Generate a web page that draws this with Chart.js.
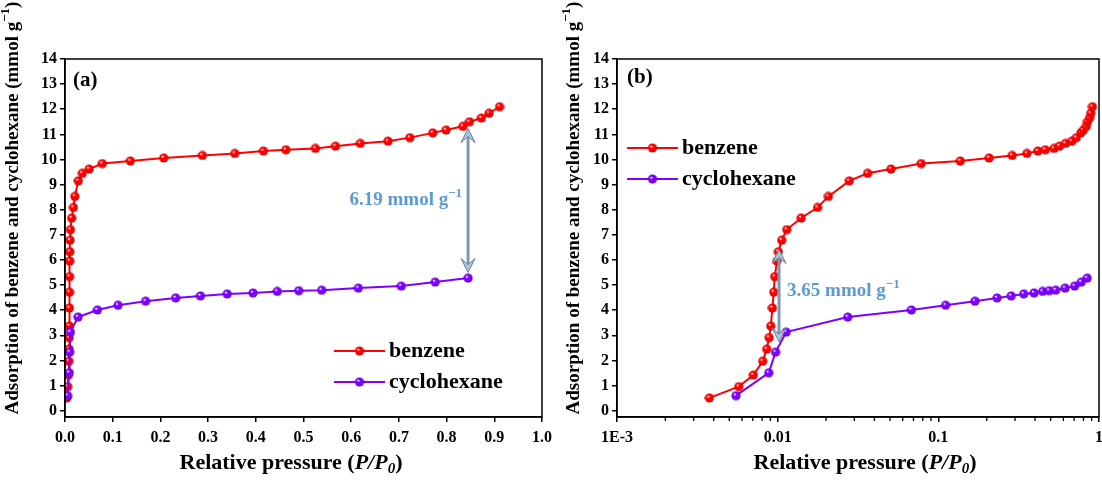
<!DOCTYPE html>
<html lang="en">

<head>
    <meta charset="UTF-8">
    <script src="https://cdn.jsdelivr.net/npm/chart.js"></script>
    <title>Benzene / cyclohexane adsorption</title>
    <style>
        body {
            margin: 0;
            width: 1102px;
            height: 495px;
            overflow: hidden;
            background: #fff;
            position: relative;
        }

        .panel {
            position: absolute;
            top: 0;
        }

        #panelA { left: 0; }
        #panelB { left: 551px; }
    </style>
</head>

<body>
    <canvas id="panelA" class="panel" width="570" height="495"></canvas>
    <canvas id="panelB" class="panel" width="570" height="495"></canvas>

    <script>
        // values: relative pressure P/P0 and uptake (mmol/g)
        const benzeneP = [0.00376, 0.00573, 0.00706, 0.00807, 0.00855, 0.00884, 0.00906, 0.00927, 0.00946, 0.00959,
            0.00991, 0.0101, 0.0106, 0.0114, 0.0140, 0.0177, 0.0207, 0.0279, 0.0363, 0.0507,
            0.0782, 0.137, 0.207, 0.288, 0.356, 0.416, 0.463, 0.525, 0.567, 0.619,
            0.677, 0.723, 0.771, 0.799, 0.834, 0.848, 0.873, 0.889, 0.911];
        const benzeneQ = [0.51, 0.96, 1.42, 1.97, 2.45, 2.91, 3.37, 4.09, 4.72, 5.34,
            5.96, 6.33, 6.79, 7.21, 7.67, 8.09, 8.53, 9.15, 9.45, 9.62,
            9.84, 9.94, 10.06, 10.16, 10.24, 10.34, 10.39, 10.44, 10.53, 10.64,
            10.73, 10.87, 11.06, 11.17, 11.32, 11.50, 11.65, 11.84, 12.10];
        const cyclohexaneP = [0.0055, 0.0088, 0.0097, 0.0113, 0.0273, 0.068, 0.111, 0.169, 0.232, 0.284,
            0.34, 0.394, 0.445, 0.49, 0.538, 0.615, 0.705, 0.776, 0.845];
        const cyclohexaneQ = [0.60, 1.51, 2.33, 3.13, 3.73, 4.01, 4.20, 4.36, 4.49, 4.57,
            4.65, 4.69, 4.75, 4.78, 4.80, 4.88, 4.96, 5.12, 5.28];

        const seriesNames = ['benzene', 'cyclohexane'];
        const seriesColors = ['#ff0000', '#8000ff'];
        const seriesShades = ['#a80000', '#4d009c'];

        const yTicks = [0, 1, 2, 3, 4, 5, 6, 7, 8, 9, 10, 11, 12, 13, 14];
        const xTicksA = [0, 0.1, 0.2, 0.3, 0.4, 0.5, 0.6, 0.7, 0.8, 0.9, 1.0];
        const xDecadesB = [0.001, 0.01, 0.1, 1];
        const xDecadeLabelsB = ['1E-3', '0.01', '0.1', '1'];

        // difference arrows (a) at high pressure, (b) at the step
        const gapA = { x: 0.845, top: 11.23, bottom: 5.5, text: '6.19' };
        const gapB = { x: 0.0102, top: 6.42, bottom: 2.74, text: '3.65', textY: 4.75 };

        const SERIF = '"Liberation Serif", "Times New Roman", serif';
        const tickFont = { family: SERIF, size: 16, weight: 'bold' };

        // small shaded ball used as point marker
        function makeBall(color, shade) {
            const c = document.createElement('canvas');
            c.width = 10; c.height = 10;
            const g = c.getContext('2d');
            const grad = g.createRadialGradient(3.6, 3.4, 0.3, 5, 5, 4.8);
            grad.addColorStop(0, '#ffffff');
            grad.addColorStop(0.3, color);
            grad.addColorStop(0.75, color);
            grad.addColorStop(1, shade);
            g.fillStyle = grad;
            g.beginPath();
            g.arc(5, 5, 4.6, 0, Math.PI * 2);
            g.fill();
            return c;
        }
        const balls = seriesColors.map((c, i) => makeBall(c, seriesShades[i]));

        function richText(ctx, parts, x, y, align) {
            let w = 0;
            parts.forEach(p => { ctx.font = p[1]; w += ctx.measureText(p[0]).width; });
            let cx = align === 'center' ? x - w / 2 : (align === 'right' ? x - w : x);
            ctx.textAlign = 'left';
            ctx.textBaseline = 'middle';
            parts.forEach(p => {
                ctx.font = p[1];
                ctx.fillText(p[0], cx, y + (p[2] || 0));
                cx += ctx.measureText(p[0]).width;
            });
        }

        function drawArrow(ctx, px, yTop, yBot) {
            ctx.strokeStyle = '#8097b0';
            ctx.lineWidth = 3;
            ctx.beginPath();
            ctx.moveTo(px, yTop + 6);
            ctx.lineTo(px, yBot - 6);
            ctx.stroke();
            [[yTop, 1], [yBot, -1]].forEach(([ty, dir]) => {
                ctx.beginPath();
                ctx.moveTo(px, ty);
                ctx.lineTo(px - 7, ty + dir * 14);
                ctx.lineTo(px, ty + dir * 8);
                ctx.lineTo(px + 7, ty + dir * 14);
                ctx.closePath();
                ctx.fillStyle = '#afc4da';
                ctx.fill();
                ctx.strokeStyle = '#6a819b';
                ctx.lineWidth = 1;
                ctx.stroke();
            });
        }

        function decor(cfg) {
            return {
                id: 'decor',
                afterDraw(chart) {
                    const { ctx, chartArea: a, scales: { x, y } } = chart;
                    ctx.save();
                    ctx.strokeStyle = '#000';
                    ctx.lineWidth = 1.5;
                    ctx.strokeRect(a.left, a.top, a.right - a.left, a.bottom - a.top);

                    // shorter minor ticks on the log axis
                    if (cfg.minor) {
                        ctx.lineWidth = 1.3;
                        x.ticks.filter(t => !t.major).forEach(t => {
                            const px = x.getPixelForValue(t.value);
                            ctx.beginPath();
                            ctx.moveTo(px, a.bottom);
                            ctx.lineTo(px, a.bottom + 4);
                            ctx.stroke();
                        });
                    }

                    ctx.fillStyle = '#000';
                    ctx.font = 'bold 21px ' + SERIF;
                    ctx.textAlign = 'left';
                    ctx.textBaseline = 'middle';
                    ctx.fillText(cfg.letter, cfg.letterX, cfg.letterY);

                    // axis titles
                    richText(ctx, [
                        ['Relative pressure (', 'bold 22px ' + SERIF],
                        ['P/P', 'italic bold 22px ' + SERIF],
                        ['0', 'italic bold 15px ' + SERIF, 6],
                        [')', 'bold 22px ' + SERIF]
                    ], cfg.xTitleX, 463, 'center');

                    ctx.save();
                    ctx.translate(cfg.yTitleX, 208);
                    ctx.rotate(-Math.PI / 2);
                    richText(ctx, [
                        ['Adsorption of benzene and cyclohexane (mmol g', 'bold 19px ' + SERIF],
                        ['\u22121', 'bold 13px ' + SERIF, -7],
                        [')', 'bold 19px ' + SERIF]
                    ], 0, 0, 'center');
                    ctx.restore();

                    // legend
                    seriesNames.forEach((name, i) => {
                        const ly = cfg.legendY + i * 31;
                        ctx.strokeStyle = seriesColors[i];
                        ctx.lineWidth = 2;
                        ctx.beginPath();
                        ctx.moveTo(cfg.legendX, ly);
                        ctx.lineTo(cfg.legendX + 51, ly);
                        ctx.stroke();
                        ctx.drawImage(balls[i], cfg.legendX + 25.5 - 5, ly - 5);
                        ctx.fillStyle = '#000';
                        ctx.font = 'bold 22px ' + SERIF;
                        ctx.textAlign = 'left';
                        ctx.fillText(name, cfg.legendX + 55, ly);
                    });

                    // difference arrow
                    const g = cfg.gap;
                    const px = x.getPixelForValue(g.x);
                    const yt = y.getPixelForValue(g.top);
                    const yb = y.getPixelForValue(g.bottom);
                    drawArrow(ctx, px, yt, yb);
                    ctx.fillStyle = '#5b9bd5';
                    const parts = [
                        [g.text + ' mmol g', 'bold 19px ' + SERIF],
                        ['\u22121', 'bold 13px ' + SERIF, -7]
                    ];
                    if (cfg.textSide === 'left') {
                        richText(ctx, parts, px - 6, (yt + yb) / 2, 'right');
                    } else {
                        richText(ctx, parts, px + 8, y.getPixelForValue(g.textY), 'left');
                    }
                    ctx.restore();
                }
            };
        }

        function datasets() {
            return [
                {
                    label: seriesNames[1],
                    data: cyclohexaneP.map((p, i) => ({ x: p, y: cyclohexaneQ[i] })),
                    borderColor: seriesColors[1],
                    borderWidth: 2,
                    pointStyle: balls[1],
                    order: 0
                },
                {
                    label: seriesNames[0],
                    data: benzeneP.map((p, i) => ({ x: p, y: benzeneQ[i] })),
                    borderColor: seriesColors[0],
                    borderWidth: 2,
                    pointStyle: balls[0],
                    order: 1
                }
            ];
        }

        const yScale = {
            type: 'linear',
            min: -0.25,
            max: 14,
            afterBuildTicks: s => { s.ticks = yTicks.map(v => ({ value: v })); },
            afterFit: s => { s.width = 65; },
            ticks: { font: tickFont, color: '#000', padding: 3 },
            grid: { display: true, drawOnChartArea: false, tickLength: 5, color: '#000', lineWidth: 1.5 },
            border: { display: true, color: '#000', width: 1.5 }
        };

        const common = {
            responsive: false,
            animation: false,
            devicePixelRatio: 1,
            elements: { line: { tension: 0 } },
            plugins: { legend: { display: false }, tooltip: { enabled: false } }
        };

        // (a) linear pressure axis
        new Chart(document.getElementById('panelA'), {
            type: 'line',
            data: { datasets: datasets() },
            options: {
                ...common,
                layout: { padding: { top: 59, right: 28, left: 0, bottom: 0 } },
                scales: {
                    x: {
                        type: 'linear',
                        min: 0,
                        max: 1,
                        afterBuildTicks: s => { s.ticks = xTicksA.map(v => ({ value: v })); },
                        afterFit: s => { s.height = 78; },
                        ticks: { font: tickFont, color: '#000', padding: 6, maxRotation: 0, autoSkip: false,
                            callback: v => v.toFixed(1) },
                        grid: { display: true, drawOnChartArea: false, tickLength: 5, color: '#000', lineWidth: 1.5 },
                        border: { display: true, color: '#000', width: 1.5 }
                    },
                    y: yScale
                }
            },
            plugins: [decor({
                letter: '(a)', letterX: 73, letterY: 81,
                xTitleX: 291, yTitleX: 13,
                legendX: 334, legendY: 351,
                gap: gapA, textSide: 'left', minor: false
            })]
        });

        // (b) log pressure axis
        new Chart(document.getElementById('panelB'), {
            type: 'line',
            data: { datasets: datasets() },
            options: {
                ...common,
                layout: { padding: { top: 59, right: 22, left: 0, bottom: 0 } },
                scales: {
                    x: {
                        type: 'logarithmic',
                        min: 0.001,
                        max: 1,
                        afterBuildTicks: s => {
                            const t = [];
                            xDecadesB.forEach(d => {
                                t.push({ value: d, major: true });
                                if (d < 1) {
                                    for (let m = 2; m <= 9; m++) t.push({ value: m * d, major: false });
                                }
                            });
                            s.ticks = t;
                        },
                        afterFit: s => { s.height = 78; },
                        ticks: {
                            font: tickFont, color: '#000', padding: 6, maxRotation: 0, autoSkip: false,
                            callback: (v, i, t) => t[i].major ? xDecadeLabelsB[xDecadesB.indexOf(t[i].value)] : ''
                        },
                        grid: {
                            display: true, drawOnChartArea: false, tickLength: 5, color: '#000', lineWidth: 1.5,
                            tickColor: c => (c.tick && c.tick.major) ? '#000' : 'rgba(0,0,0,0)'
                        },
                        border: { display: true, color: '#000', width: 1.5 }
                    },
                    y: { ...yScale, afterFit: s => { s.width = 66; } }
                }
            },
            plugins: [decor({
                letter: '(b)', letterX: 76, letterY: 78,
                xTitleX: 314, yTitleX: 23,
                legendX: 76, legendY: 148,
                gap: gapB, textSide: 'right', minor: true
            })]
        });
    </script>
</body>

</html>
